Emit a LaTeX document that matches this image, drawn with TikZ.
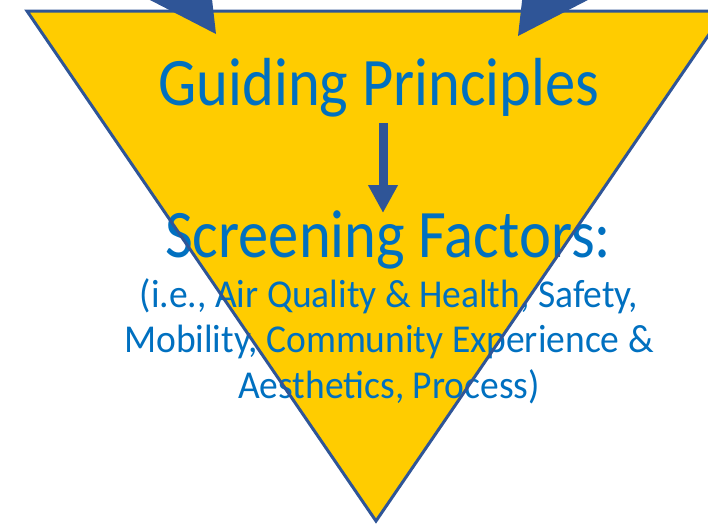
\documentclass[tikz,border=0pt]{standalone}
\usepackage{fontspec}
\setmainfont{Carlito}[FakeStretch=0.89]
\newfontfamily\smallfam{Carlito}[FakeStretch=0.95]
\usetikzlibrary{arrows.meta}
\definecolor{tyellow}{RGB}{255,204,0}
\definecolor{tblue}{RGB}{47,85,151}
\definecolor{ttext}{RGB}{0,112,192}
\tikzset{
  bigtext/.style={text=ttext,font=\fontsize{68}{80}\selectfont,inner sep=0pt,anchor=base},
  smalltext/.style={text=ttext,font=\smallfam\fontsize{39.5}{45.5}\selectfont,inner sep=0pt,anchor=base,align=center},
  flowarrow/.style={draw=tblue,line width=9pt,-{Triangle[length=28pt,width=28pt]}},
  blockhead/.style={fill=tblue,draw=none},
}
\begin{document}
\begin{tikzpicture}[x=1pt,y=-1pt]
\useasboundingbox (0,0) rectangle (708,523);
\clip (0,0) rectangle (708,523);
\coordinate (tl) at (27,11);
\coordinate (tr) at (725,11);
\coordinate (apex) at (376,521);
\fill[tyellow] (tl) -- (tr) -- (apex) -- cycle;
\node[bigtext] (gp) at (379,105) {Guiding Principles};
\node[bigtext] (sf) at (388,257) {Screening Factors:};
\node[smalltext] (list) at (389,398) {(i.e., Air Quality \& Health, Safety,\\Mobility, Community Experience \&\\Aesthetics, Process)};
\draw[tblue,line width=3pt,line join=miter] (tl) -- (tr) -- (apex) -- cycle;
\coordinate (a1) at (383,123);
\coordinate (a2) at (383,213);
\draw[flowarrow] (a1) -- (a2);
% top-left block arrow (clipped)
\fill[blockhead] (216,34) -- ++(-0.889*100,-0.458*100) -- ++(0.814*20,-0.581*20) -- ++(-0.581*80,-0.814*80) -- ++(0.814*55,-0.581*55) -- ++(0.581*80,0.814*80) -- ++(0.814*20,-0.581*20) -- cycle;
% top-right block arrow (clipped)
\fill[blockhead] (518,36) -- ++(0.889*100,-0.458*100) -- ++(-0.814*20,-0.581*20) -- ++(0.581*80,-0.814*80) -- ++(-0.814*55,-0.581*55) -- ++(-0.581*80,0.814*80) -- ++(-0.814*20,-0.581*20) -- cycle;
\end{tikzpicture}
\end{document}
